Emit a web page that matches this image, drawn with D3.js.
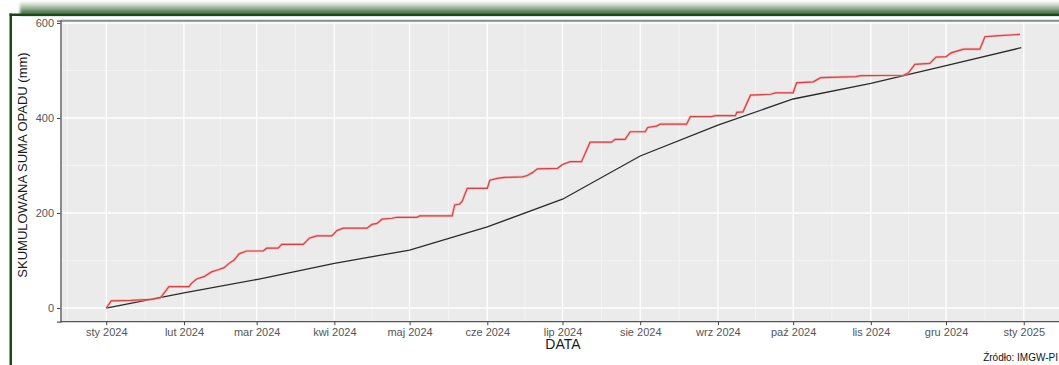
<!DOCTYPE html>
<meta charset="utf-8">
<script src="https://d3js.org/d3.v7.min.js"></script>
<style>
  body { margin: 0; background: #fff; }
  svg { display: block; font-family: "Liberation Sans", Arial, sans-serif; }
</style>
<div id="chart"></div>
<script>

    // month tick labels (Polish)
    const monthLabels = ["sty 2024", "lut 2024", "mar 2024", "kwi 2024", "maj 2024", "cze 2024",
      "lip 2024", "sie 2024", "wrz 2024", "paź 2024", "lis 2024", "gru 2024", "sty 2025"];
    const yTicks = [0, 200, 400, 600];

    // norm (black line): cumulative value at the start of each month, last = 31 Dec
    const normDates = ["2024-01-01", "2024-02-01", "2024-03-01", "2024-04-01", "2024-05-01", "2024-06-01",
      "2024-07-01", "2024-08-01", "2024-09-01", "2024-10-01", "2024-11-01", "2024-12-01", "2024-12-31"];
    const normValues = [0, 32, 60, 94, 122, 171, 229, 320, 385, 440, 473, 510, 548];

    // observed 2024 (red line): day of year -> cumulative precipitation (mm)
    const obsDays = [0, 2, 10, 18, 21.5, 22, 25, 33, 34, 36, 39, 42, 45, 47, 49, 51, 53, 56, 62.6, 64,
      68.6, 70, 78.6, 81, 84, 90, 92, 94.5, 104, 106, 108, 110, 114, 116, 124, 125, 138, 139, 141, 142,
      144, 152, 153, 156, 159, 166, 168, 170, 172, 180, 182, 185, 189.6, 193, 201.6, 203, 207, 209, 215, 216,
      219.5, 221, 231.5, 233, 241.5, 243, 251, 251.5, 254, 257, 265, 267, 274, 275.4, 282, 285, 299, 301, 318, 320,
      322.6, 328.5, 331, 335, 337, 342, 348.5, 350.5, 355, 364.5];
    const obsValues = [0, 15, 16, 18, 22, 24, 45, 45, 52, 61, 66, 76, 81, 85, 94, 101, 114, 120, 120, 126,
      126, 134, 134, 147, 152, 152, 163, 168, 168, 176, 178, 187, 189, 191, 191, 194, 194, 217, 219, 225,
      252, 252, 269, 273, 275, 276, 279, 285, 293, 294, 302, 308, 308, 349, 349, 355, 355, 371, 371, 380,
      383, 387, 387, 403, 403, 405, 405, 412, 413, 448, 450, 453, 453, 474, 476, 485, 487, 489, 490, 495,
      513, 515, 528, 529, 537, 545, 545, 571, 573, 576];

    const width = 1059, height = 365;
    const panel = {left: 60.5, top: 20.7, bottom: 321.7, right: 1067};

    const svg = d3.select("#chart")
      .append("svg")
        .attr("width", width)
        .attr("height", height);

    const defs = svg.append("defs");
    const grad = defs.append("linearGradient").attr("id", "band")
      .attr("x1", 0).attr("y1", 0).attr("x2", 0).attr("y2", 1);
    grad.append("stop").attr("offset", "0%").attr("stop-color", "#f2f5f2");
    grad.append("stop").attr("offset", "45%").attr("stop-color", "#9bb59b");
    grad.append("stop").attr("offset", "100%").attr("stop-color", "#1f521f");
    defs.append("filter").attr("id", "soft")
      .append("feGaussianBlur").attr("stdDeviation", 1.5);
    defs.append("clipPath").attr("id", "clip")
      .append("rect")
        .attr("x", panel.left).attr("y", panel.top)
        .attr("width", panel.right - panel.left).attr("height", panel.bottom - panel.top);

    // green frame decoration
    svg.append("rect")
      .attr("x", 20).attr("y", 2).attr("width", width).attr("height", 13)
      .attr("fill", "url(#band)").attr("filter", "url(#soft)");
    svg.append("rect").attr("x", 9.5).attr("y", 13.5).attr("width", width).attr("height", 2.5).attr("fill", "#184a18");
    svg.append("rect").attr("x", 9.5).attr("y", 13.5).attr("width", 2.5).attr("height", height).attr("fill", "#184a18");

    const start = new Date(2024, 0, 1);
    const parse = d3.timeParse("%Y-%m-%d");
    const maxV = d3.max(obsValues);

    const x = d3.scaleTime()
      .domain([d3.timeHour.offset(start, -18.25 * 24), d3.timeHour.offset(parse("2024-12-31"), 18.25 * 24)])
      .range([panel.left, panel.right]);
    const y = d3.scaleLinear()
      .domain([-0.05 * maxV, 1.05 * maxV])
      .range([panel.bottom, panel.top]);

    const monthTicks = d3.range(13).map(i => new Date(2024, i, 1));
    const minorX = [new Date(2023, 11, 16, 12)].concat(d3.range(12).map(i =>
      new Date((monthTicks[i].getTime() + monthTicks[i + 1].getTime()) / 2)));

    // panel
    svg.append("rect")
      .attr("x", panel.left).attr("y", panel.top)
      .attr("width", width - panel.left).attr("height", panel.bottom - panel.top)
      .attr("fill", "#ebebeb");

    const grid = svg.append("g").attr("clip-path", "url(#clip)");
    grid.selectAll(".minx").data(minorX).join("line")
      .attr("x1", d => x(d)).attr("x2", d => x(d))
      .attr("y1", panel.top).attr("y2", panel.bottom)
      .attr("stroke", "#f7f7f7").attr("stroke-width", 0.7);
    grid.selectAll(".miny").data([100, 300, 500]).join("line")
      .attr("x1", panel.left).attr("x2", width)
      .attr("y1", d => y(d)).attr("y2", d => y(d))
      .attr("stroke", "#f7f7f7").attr("stroke-width", 0.7);
    grid.selectAll(".majx").data(monthTicks).join("line")
      .attr("x1", d => x(d)).attr("x2", d => x(d))
      .attr("y1", panel.top).attr("y2", panel.bottom)
      .attr("stroke", "#fff").attr("stroke-width", 1.3);
    grid.selectAll(".majy").data(yTicks).join("line")
      .attr("x1", panel.left).attr("x2", width)
      .attr("y1", d => y(d)).attr("y2", d => y(d))
      .attr("stroke", "#fff").attr("stroke-width", 1.3);

    // top border of the panel
    svg.append("line")
      .attr("x1", panel.left).attr("x2", width)
      .attr("y1", panel.top).attr("y2", panel.top)
      .attr("stroke", "#8c8c8c").attr("stroke-width", 2);

    // lines
    const line = d3.line().x(d => x(d[0])).y(d => y(d[1]));
    const normData = normDates.map((d, i) => [parse(d), normValues[i]]);
    const obsData = obsDays.map((d, i) => [d3.timeHour.offset(start, d * 24), obsValues[i]]);

    grid.append("path").datum(normData)
      .attr("d", line).attr("fill", "none")
      .attr("stroke", "#2b2b2b").attr("stroke-width", 1.3);
    grid.append("path").datum(obsData)
      .attr("d", line).attr("fill", "none")
      .attr("stroke", "#f4a0a0").attr("stroke-width", 2.6).attr("opacity", 0.6);
    grid.append("path").datum(obsData)
      .attr("d", line).attr("fill", "none")
      .attr("stroke", "#dc3f3f").attr("stroke-width", 1.2);

    // axes
    const xAxis = svg.append("g")
      .attr("transform", `translate(0,${panel.bottom})`)
      .call(d3.axisBottom(x).tickValues(monthTicks).tickFormat((d, i) => monthLabels[i])
        .tickSize(3.5).tickPadding(3));
    const yAxis = svg.append("g")
      .attr("transform", `translate(${panel.left},0)`)
      .call(d3.axisLeft(y).tickValues(yTicks).tickSize(3.5).tickPadding(3));
    [xAxis, yAxis].forEach(a => {
      a.select(".domain").attr("stroke", "#555").attr("stroke-width", 1.3);
      a.selectAll(".tick line").attr("stroke", "#444");
      a.selectAll(".tick text").attr("fill", "#555").attr("font-size", 11)
        .attr("font-family", "Liberation Sans, Arial, sans-serif");
    });
    xAxis.select(".domain").attr("d", `M${panel.left},0H${width}`);

    svg.append("text")
      .attr("x", 563).attr("y", 349)
      .attr("text-anchor", "middle").attr("font-size", 14).attr("fill", "#1a1a1a")
      .text("DATA");
    svg.append("text")
      .attr("transform", "translate(27,165) rotate(-90)")
      .attr("text-anchor", "middle").attr("font-size", 13).attr("fill", "#1a1a1a")
      .text("SKUMULOWANA SUMA OPADU (mm)");
    svg.append("text")
      .attr("x", 1058).attr("y", 361)
      .attr("text-anchor", "end").attr("font-size", 10).attr("fill", "#111")
      .text("Źródło: IMGW-PI");
</script>
